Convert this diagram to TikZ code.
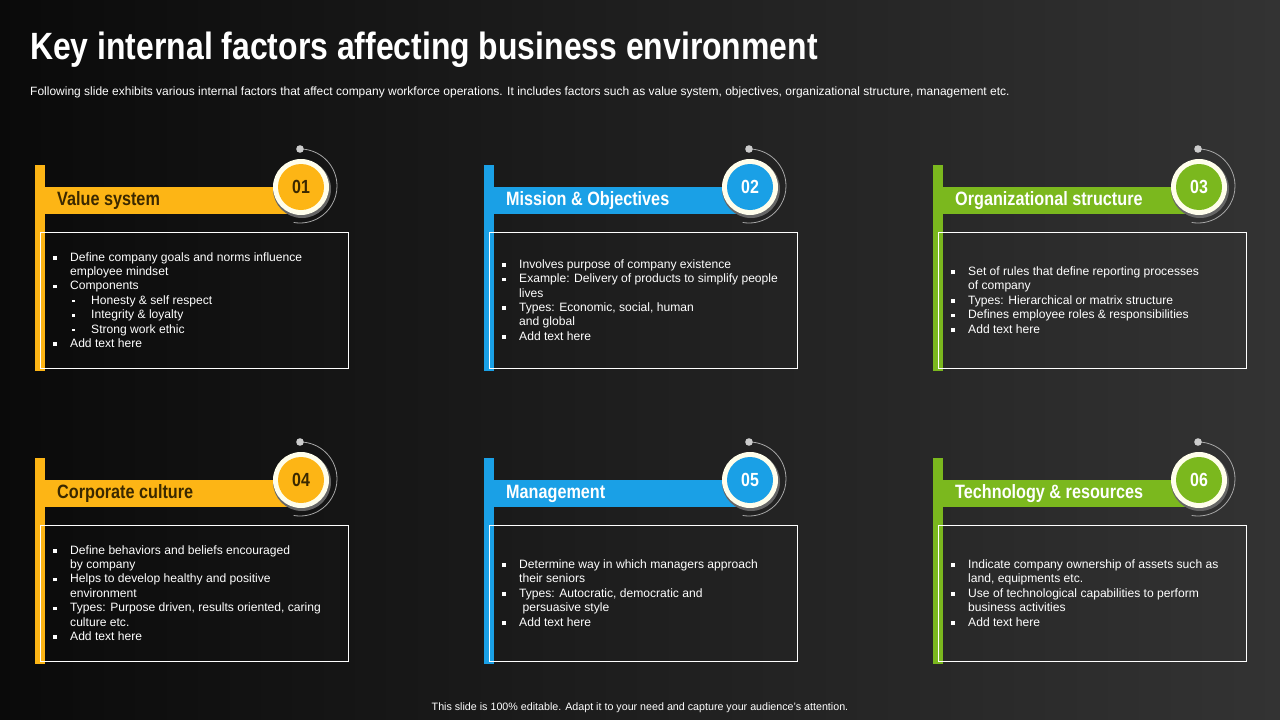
\documentclass[tikz,border=0pt]{standalone}
\usepackage{fontspec}
\setmainfont{Liberation Sans}
\newfontfamily\narrow[FakeStretch=0.84]{Liberation Sans}
\definecolor{cyel}{HTML}{FDB515}
\definecolor{cblu}{HTML}{1AA0E6}
\definecolor{cgrn}{HTML}{7BB81E}
\definecolor{dbrown}{HTML}{3A2800}
\newcommand{\bl}{\makebox[17pt][l]{\raisebox{1.5pt}{\rule{3.6pt}{3.6pt}}}}
\newcommand{\sbl}{\hspace*{19pt}\makebox[19pt][l]{\raisebox{2.2pt}{\rule{2.4pt}{2.4pt}}}}
\newcommand{\ct}{\hspace*{17pt}}
\tikzset{
  bodytxt/.style={text=white,font=\fontsize{12.1}{14.4}\selectfont,align=left,anchor=west,inner sep=0pt},
  boxframe/.style={draw=white,line width=0.8pt},
}
% #1 name, #2 x, #3 y, #4 color, #5 title color, #6 num color, #7 num, #8 title, #9 body
\newcommand{\card}[9]{%
  \fill[#4] (#2,#3) rectangle ++(10,206);
  \fill[#4] (#2+10,#3+22) rectangle ++(256,27);
  \node[anchor=west,text=#5,font=\narrow\bfseries\fontsize{19.3}{21}\selectfont,inner sep=0pt] (#1t) at (#2+22,#3+36) {#8};
  \draw[gray!70,line width=0.8pt] (#2+265,#3-16) arc[start angle=-90,end angle=100,radius=37];
  \fill[gray!40] (#2+265,#3-16) circle[radius=3.8];
  \fill[black!60] (#2+267,#3+24) circle[radius=29];
  \fill[white!92!yellow] (#2+266,#3+22) circle[radius=28];
  \fill[#4] (#2+266,#3+22) circle[radius=23];
  \node[text=#6,font=\narrow\bfseries\fontsize{19}{20}\selectfont] (#1n) at (#2+266,#3+22) {#7};
  \draw[boxframe] (#2+5,#3+67) rectangle (#2+313,#3+203);
  \node[bodytxt] (#1b) at (#2+18,#3+135) {#9};
}
\begin{document}
\begin{tikzpicture}[x=1pt,y=-1pt]
\shade[left color=black!96,right color=black!80] (0,0) rectangle (1280,720);
\useasboundingbox (0,0) rectangle (1280,720);
\node[anchor=west,text=white,font=\narrow\bfseries\fontsize{38}{40}\selectfont,inner sep=0pt] (title) at (30,50) {Key internal factors affecting business environment};
\node[anchor=west,text=white,font=\fontsize{12}{14}\selectfont,inner sep=0pt] (sub) at (30,92) {Following slide exhibits various internal factors that affect company workforce operations. It includes factors such as value system, objectives, organizational structure, management etc.};
\card{c1}{35}{165}{cyel}{dbrown}{dbrown}{01}{Value system}{%
\bl Define company goals and norms influence\\ \ct employee mindset\\ \bl Components\\ \sbl Honesty \& self respect\\ \sbl Integrity \& loyalty\\ \sbl Strong work ethic\\ \bl Add text here}
\card{c2}{484}{165}{cblu}{white}{white}{02}{Mission \& Objectives}{%
\bl Involves purpose of company existence\\ \bl Example: Delivery of products to simplify people\\ \ct lives\\ \bl Types: Economic, social, human\\ \ct and global\\ \bl Add text here}
\card{c3}{933}{165}{cgrn}{white}{white}{03}{Organizational structure}{%
\bl Set of rules that define reporting processes\\ \ct of company\\ \bl Types: Hierarchical or matrix structure\\ \bl Defines employee roles \& responsibilities\\ \bl Add text here}
\card{c4}{35}{458}{cyel}{dbrown}{dbrown}{04}{Corporate culture}{%
\bl Define behaviors and beliefs encouraged\\ \ct by company\\ \bl Helps to develop healthy and positive\\ \ct environment\\ \bl Types: Purpose driven, results oriented, caring\\ \ct culture etc.\\ \bl Add text here}
\card{c5}{484}{458}{cblu}{white}{white}{05}{Management}{%
\bl Determine way in which managers approach\\ \ct their seniors\\ \bl Types: Autocratic, democratic and\\ \ct\ persuasive style\\ \bl Add text here}
\card{c6}{933}{458}{cgrn}{white}{white}{06}{Technology \& resources}{%
\bl Indicate company ownership of assets such as\\ \ct land, equipments etc.\\ \bl Use of technological capabilities to perform\\ \ct business activities\\ \bl Add text here}
\node[text=white,font=\fontsize{10.7}{12}\selectfont,inner sep=0pt] (foot) at (640,708) {This slide is 100\% editable.  Adapt it to your need and capture your audience's attention.};
\end{tikzpicture}
\end{document}
